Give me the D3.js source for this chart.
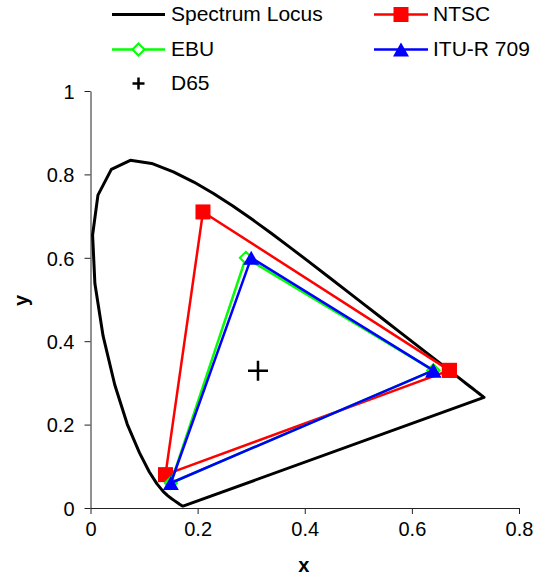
<!DOCTYPE html>
<html>
<head>
<meta charset="utf-8">
<script src="https://cdn.jsdelivr.net/npm/d3@7"></script>
<style>
	body { margin: 0; background: #fff; }
	text { font-family: "Liberation Sans", Arial, sans-serif; }
</style>
</head>
<body>
<svg width="537" height="577"></svg>
<script>
// CIE 1931 spectrum locus, 380-700 nm in 5 nm steps
var locusX = [0.1741, 0.1740, 0.1738, 0.1736, 0.1733, 0.1730, 0.1726, 0.1721, 0.1714, 0.1703,
	0.1689, 0.1669, 0.1644, 0.1611, 0.1566, 0.1510, 0.1440, 0.1355, 0.1241, 0.1096,
	0.0913, 0.0687, 0.0454, 0.0235, 0.0082, 0.0039, 0.0139, 0.0389, 0.0743, 0.1142,
	0.1547, 0.1929, 0.2296, 0.2658, 0.3016, 0.3374, 0.3731, 0.4087, 0.4441, 0.4788,
	0.5125, 0.5448, 0.5752, 0.6029, 0.6270, 0.6482, 0.6658, 0.6801, 0.6915, 0.7006,
	0.7079, 0.7140, 0.7190, 0.7230, 0.7260, 0.7283, 0.7300, 0.7311, 0.7320, 0.7327,
	0.7334, 0.7340, 0.7344, 0.7346, 0.7347, 0.1741]
var locusY = [0.0050, 0.0050, 0.0049, 0.0049, 0.0048, 0.0048, 0.0048, 0.0048, 0.0051, 0.0058,
	0.0069, 0.0086, 0.0109, 0.0138, 0.0177, 0.0227, 0.0297, 0.0399, 0.0578, 0.0868,
	0.1327, 0.2007, 0.2950, 0.4127, 0.5384, 0.6548, 0.7502, 0.8120, 0.8338, 0.8262,
	0.8059, 0.7816, 0.7543, 0.7243, 0.6923, 0.6589, 0.6245, 0.5896, 0.5547, 0.5202,
	0.4866, 0.4544, 0.4242, 0.3965, 0.3725, 0.3514, 0.3340, 0.3197, 0.3083, 0.2993,
	0.2920, 0.2859, 0.2809, 0.2770, 0.2740, 0.2717, 0.2700, 0.2689, 0.2680, 0.2673,
	0.2666, 0.2660, 0.2656, 0.2654, 0.2653, 0.0050]

// primaries R, G, B, back to R
var ntscX = [0.67, 0.21, 0.14, 0.67]
var ntscY = [0.33, 0.71, 0.08, 0.33]
var ebuX = [0.64, 0.29, 0.15, 0.64]
var ebuY = [0.33, 0.60, 0.06, 0.33]
var ituX = [0.64, 0.30, 0.15, 0.64]
var ituY = [0.33, 0.60, 0.06, 0.33]

// white point
var d65X = [0.3127]
var d65Y = [0.3290]

var xTicks = [0, 0.2, 0.4, 0.6, 0.8]
var yTicks = [0, 0.2, 0.4, 0.6, 0.8, 1]

var seriesNames = ["Spectrum Locus", "NTSC", "EBU", "ITU-R 709", "D65"]


function toPoints(xs, ys) {
	return xs.map(function(v, i) { return {x: v, y: ys[i]} })
}

// marker shapes, centred on 0,0
function markerPath(type, s) {
	var h = s / 2
	if (type == "square") return "M" + (-h) + "," + (-h) + "h" + s + "v" + s + "h" + (-s) + "Z"
	if (type == "diamond") return "M0," + (-h) + "L" + h + ",0L0," + h + "L" + (-h) + ",0Z"
	if (type == "triangle") return "M0," + (-h) + "L" + (h + 1) + "," + h + "L" + (-h - 1) + "," + h + "Z"
	if (type == "plus") return "M" + (-h) + ",0H" + h + "M0," + (-h) + "V" + h
	return ""
}

var series = [
	{name: seriesNames[0], pts: toPoints(locusX, locusY), color: "#000", width: 3, marker: null},
	{name: seriesNames[1], pts: toPoints(ntscX, ntscY), color: "#ff0000", width: 2.5, marker: "square", size: 15, fill: "#ff0000"},
	{name: seriesNames[2], pts: toPoints(ebuX, ebuY), color: "#00ff00", width: 2.5, marker: "diamond", size: 12, fill: "#fff"},
	{name: seriesNames[3], pts: toPoints(ituX, ituY), color: "#0000ff", width: 2.5, marker: "triangle", size: 14, fill: "#0000ff"},
	{name: seriesNames[4], pts: toPoints(d65X, d65Y), color: "#000", width: 2.5, marker: "plus", size: 20, fill: "none", noLine: true}
]

var svg = d3.select("svg")

var padding = {t: 91, r: 18, b: 69, l: 90.5}
var svgWidth = +svg.attr("width")
var svgHeight = +svg.attr("height")

var x = d3.scaleLinear()
	.domain([0, 0.8])
	.range([padding.l, svgWidth - padding.r])

var y = d3.scaleLinear()
	.domain([0, 1])
	.range([svgHeight - padding.b, padding.t])

function fmt(d) { return d == 0 ? "0" : d == 1 ? "1" : d3.format(".1f")(d) }

// axes
var xAxis = svg.append("g")
	.attr("transform", "translate(0," + y(0) + ")")
	.call(d3.axisBottom(x).tickValues(xTicks).tickFormat(fmt).tickSizeInner(6).tickSizeOuter(0).tickPadding(8))

var yAxis = svg.append("g")
	.attr("transform", "translate(" + x(0) + ",0)")
	.call(d3.axisLeft(y).tickValues(yTicks).tickFormat(fmt).tickSizeInner(6).tickSizeOuter(0).tickPadding(10))

svg.selectAll(".domain, .tick line")
	.attr("stroke", "#222")
	.attr("stroke-width", 1)

svg.selectAll(".tick text")
	.attr("font-family", "Liberation Sans, Arial, sans-serif")
	.attr("font-size", 20)
	.attr("fill", "#000")

yAxis.selectAll(".tick text").attr("dy", "0.36em")

// axis titles
svg.append("text")
	.attr("x", (x(0) + x(0.8)) / 2 - 1)
	.attr("y", 572)
	.attr("text-anchor", "middle")
	.style("font-size", "20px")
	.style("font-weight", "bold")
	.text("x")

svg.append("text")
	.attr("transform", "translate(28," + (y(0.5) + 1) + ")rotate(-90)")
	.attr("text-anchor", "middle")
	.style("font-size", "20px")
	.style("font-weight", "bold")
	.text("y")

var line = d3.line()
	.x(function(d) { return x(d.x) })
	.y(function(d) { return y(d.y) })

var plotG = svg.append("g")

series.forEach(function(s) {
	if (!s.noLine) {
		plotG.append("path")
			.datum(s.pts)
			.attr("d", line)
			.attr("fill", "none")
			.attr("stroke", s.color)
			.attr("stroke-width", s.width)
			.attr("stroke-linejoin", "round")
	}
	if (s.marker) {
		plotG.selectAll(null)
			.data(s.pts)
			.enter()
			.append("path")
			.attr("transform", function(d) { return "translate(" + x(d.x) + "," + y(d.y) + ")" })
			.attr("d", markerPath(s.marker, s.size))
			.attr("fill", s.fill)
			.attr("stroke", s.marker == "square" || s.marker == "triangle" ? "none" : s.color)
			.attr("stroke-width", s.marker == "plus" ? 2.5 : 2)
	}
})

// legend, two columns, filled row by row
var legendCols = [{lx1: 112, lx2: 165, tx: 171}, {lx1: 374, lx2: 428, tx: 433}]
var legendRows = [21, 56, 90]

var legendG = svg.append("g")

series.forEach(function(s, i) {
	var c = legendCols[i % 2]
	var base = legendRows[Math.floor(i / 2)]
	var cy = base - 6.5
	var g = legendG.append("g")
	if (!s.noLine) {
		g.append("line")
			.attr("x1", c.lx1).attr("x2", c.lx2)
			.attr("y1", cy).attr("y2", cy)
			.attr("stroke", s.color)
			.attr("stroke-width", s.width)
	}
	if (s.marker) {
		g.append("path")
			.attr("transform", "translate(" + (c.lx1 + c.lx2) / 2 + "," + cy + ")")
			.attr("d", markerPath(s.marker, s.marker == "plus" ? 12 : s.size))
			.attr("fill", s.fill)
			.attr("stroke", s.marker == "square" || s.marker == "triangle" ? "none" : s.color)
			.attr("stroke-width", s.marker == "plus" ? 2.5 : 2)
	}
	g.append("text")
		.attr("x", c.tx)
		.attr("y", base)
		.style("font-size", "21px")
		.text(s.name)
})
</script>
</body>
</html>
